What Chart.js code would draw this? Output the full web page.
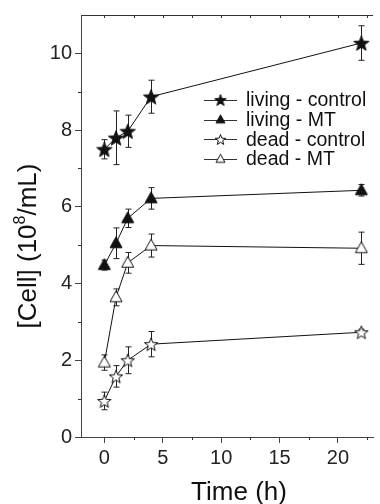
<!DOCTYPE html>
<html>
<head>
<meta charset="utf-8">
<script src="https://cdn.jsdelivr.net/npm/chart.js@4.4.1/dist/chart.umd.min.js"></script>
<style>
  html, body { margin: 0; padding: 0; background: #fff; }
  #wrap { width: 380px; height: 504px; }
</style>
</head>
<body>
<div id="wrap"><canvas id="graph1" width="380" height="504"></canvas></div>
<script>
// time points (h)
var timeH = [0, 1, 2, 4, 22];

// cell counts, 10^8 / mL
var livingControl = [7.5, 7.8, 7.97, 8.87, 10.27];
var livingMT = [4.48, 5.05, 5.7, 6.22, 6.43];
var deadControl = [0.94, 1.58, 2.0, 2.42, 2.73];
var deadMT = [1.94, 3.64, 4.54, 4.99, 4.92];

// error bars (+/-)
var livingControlErr = [0.25, 0.7, 0.42, 0.43, 0.45];
var livingMTErr = [0.13, 0.4, 0.24, 0.28, 0.15];
var deadControlErr = [0.23, 0.28, 0.35, 0.33, 0.08];
var deadMTErr = [0.2, 0.22, 0.27, 0.3, 0.42];

var seriesNames = ["living - control", "living - MT", "dead - control", "dead - MT"];

var xTicks = [0, 5, 10, 15, 20];
var xMinor = [2.5, 7.5, 12.5, 17.5, 22.5];
var yTicks = [0, 2, 4, 6, 8, 10];
var yMinor = [1, 3, 5, 7, 9];

// marker images
function makeStar(r, filled) {
  var s = Math.ceil(r * 2 + 4);
  var c = document.createElement('canvas');
  c.width = s; c.height = s;
  var g = c.getContext('2d');
  g.beginPath();
  for (var i = 0; i < 10; i++) {
    var rr = i % 2 === 0 ? r : r * 0.42;
    var a = -Math.PI / 2 + i * Math.PI / 5;
    var px = s / 2 + rr * Math.cos(a), py = s / 2 + r * 0.1 + rr * Math.sin(a);
    if (i === 0) g.moveTo(px, py); else g.lineTo(px, py);
  }
  g.closePath();
  g.fillStyle = filled ? '#111' : '#fff';
  g.fill();
  g.lineWidth = 1;
  g.strokeStyle = '#111';
  g.stroke();
  return c;
}
function makeTri(w, filled) {
  var s = Math.ceil(w + 4);
  var c = document.createElement('canvas');
  c.width = s; c.height = s;
  var g = c.getContext('2d');
  var h = w * 0.9;
  g.beginPath();
  g.moveTo(s / 2, s / 2 - h * 0.6);
  g.lineTo(s / 2 + w / 2, s / 2 + h * 0.4);
  g.lineTo(s / 2 - w / 2, s / 2 + h * 0.4);
  g.closePath();
  g.fillStyle = filled ? '#111' : '#fff';
  g.fill();
  g.lineWidth = 1;
  g.strokeStyle = '#111';
  g.stroke();
  return c;
}

var markers = [makeStar(8, true), makeTri(12, true), makeStar(7, false), makeTri(12, false)];
var legendMarkers = [makeStar(6, true), makeTri(9, true), makeStar(5.5, false), makeTri(9, false)];
var allValues = [livingControl, livingMT, deadControl, deadMT];
var allErr = [livingControlErr, livingMTErr, deadControlErr, deadMTErr];

var datasets = allValues.map(function (vals, k) {
  return {
    label: seriesNames[k],
    data: timeH.map(function (t, i) { return { x: t, y: vals[i] }; }),
    borderColor: '#111',
    borderWidth: 1,
    pointStyle: markers[k],
    pointRadius: 6,
    errors: allErr[k],
    clip: false
  };
});

var FONT = '"Liberation Sans", Arial, sans-serif';

var extras = {
  id: 'extras',
  beforeDatasetsDraw: function (chart) {
    var c = chart.ctx, xs = chart.scales.x, ys = chart.scales.y;
    c.save();
    c.strokeStyle = '#222';
    c.lineWidth = 1;
    chart.data.datasets.forEach(function (ds) {
      ds.data.forEach(function (p, i) {
        var px = Math.round(xs.getPixelForValue(p.x)) + 0.5;
        var hi = ys.getPixelForValue(p.y + ds.errors[i]);
        var lo = ys.getPixelForValue(p.y - ds.errors[i]);
        c.beginPath();
        c.moveTo(px, hi); c.lineTo(px, lo);
        c.moveTo(px - 3, hi); c.lineTo(px + 3, hi);
        c.moveTo(px - 3, lo); c.lineTo(px + 3, lo);
        c.stroke();
      });
    });
    c.restore();
  },
  afterDraw: function (chart) {
    var c = chart.ctx, xs = chart.scales.x, ys = chart.scales.y, a = chart.chartArea;
    c.save();
    c.strokeStyle = '#333';
    c.lineWidth = 1;
    // top frame line with small inward ticks
    c.beginPath();
    c.moveTo(a.left, a.top + 0.5); c.lineTo(a.right, a.top + 0.5);
    xTicks.concat(xMinor).forEach(function (v) {
      var px = Math.round(xs.getPixelForValue(v)) + 0.5;
      c.moveTo(px, a.top); c.lineTo(px, a.top + 3);
    });
    // minor ticks, outward
    xMinor.forEach(function (v) {
      var px = Math.round(xs.getPixelForValue(v)) + 0.5;
      c.moveTo(px, a.bottom); c.lineTo(px, a.bottom + 3);
    });
    yMinor.forEach(function (v) {
      var py = Math.round(ys.getPixelForValue(v)) + 0.5;
      c.moveTo(a.left, py); c.lineTo(a.left - 3, py);
    });
    c.stroke();

    // legend
    c.fillStyle = '#111';
    c.font = '19.5px ' + FONT;
    c.textBaseline = 'middle';
    c.textAlign = 'left';
    chart.data.datasets.forEach(function (ds, k) {
      var ly = 100 + k * 19.7;
      c.beginPath();
      c.moveTo(204, Math.round(ly) + 0.5); c.lineTo(237, Math.round(ly) + 0.5);
      c.stroke();
      var m = legendMarkers[k];
      c.drawImage(m, 220.5 - m.width / 2, ly - m.height / 2);
      c.fillText(ds.label, 246, ly + 1);
    });

    // axis titles
    c.font = '26px ' + FONT;
    c.textAlign = 'center';
    c.textBaseline = 'alphabetic';
    c.fillText('Time (h)', 239, 500);

    c.save();
    c.translate(36, 246);
    c.rotate(-Math.PI / 2);
    c.textAlign = 'left';
    var p1 = '[Cell] (10', p2 = '8', p3 = '/mL)';
    c.font = '26px ' + FONT;
    var w1 = c.measureText(p1).width, w3 = c.measureText(p3).width;
    c.font = '16px ' + FONT;
    var w2 = c.measureText(p2).width;
    var x0 = -(w1 + w2 + w3) / 2;
    c.font = '26px ' + FONT;
    c.fillText(p1, x0, 0);
    c.font = '16px ' + FONT;
    c.fillText(p2, x0 + w1, -11);
    c.font = '26px ' + FONT;
    c.fillText(p3, x0 + w1 + w2, 0);
    c.restore();

    c.restore();
  }
};

var ctx = document.getElementById('graph1').getContext('2d');
var chart = new Chart(ctx, {
  type: 'line',
  data: { datasets: datasets },
  plugins: [extras],
  options: {
    responsive: false,
    animation: false,
    layout: { padding: { top: 14, right: 0, left: 0, bottom: 0 } },
    plugins: { legend: { display: false }, tooltip: { enabled: false } },
    scales: {
      x: {
        type: 'linear',
        min: -2,
        max: 23,
        afterBuildTicks: function (axis) { axis.ticks = xTicks.map(function (v) { return { value: v }; }); },
        afterFit: function (axis) { axis.height = 67; },
        grid: { drawOnChartArea: false, drawTicks: true, tickLength: 6, tickColor: '#444' },
        border: { display: true, color: '#444', width: 1 },
        ticks: { color: '#222', font: { family: FONT, size: 20 }, padding: 3, maxRotation: 0, autoSkip: false }
      },
      y: {
        type: 'linear',
        min: 0,
        max: 11,
        afterBuildTicks: function (axis) { axis.ticks = yTicks.map(function (v) { return { value: v }; }); },
        afterFit: function (axis) { axis.width = 81; },
        grid: { drawOnChartArea: false, drawTicks: true, tickLength: 6, tickColor: '#444' },
        border: { display: true, color: '#444', width: 1 },
        ticks: { color: '#222', font: { family: FONT, size: 20 }, padding: 3, autoSkip: false }
      }
    }
  }
});
</script>
</body>
</html>
